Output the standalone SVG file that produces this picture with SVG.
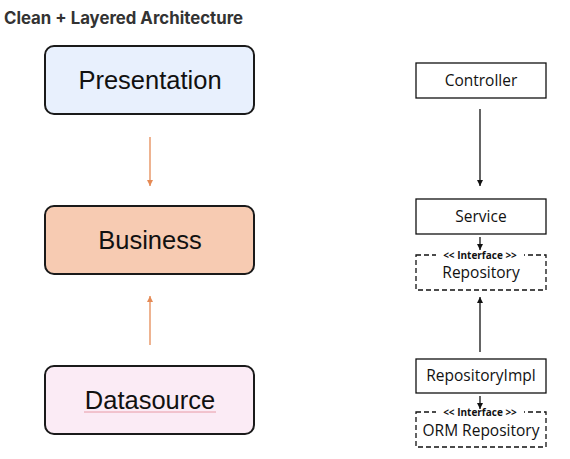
<svg xmlns="http://www.w3.org/2000/svg" width="570" height="459" viewBox="0 0 570 459">
<defs>
<style>
.layer{stroke:#1a1a1a;stroke-width:2}
.lt{font-family:"Liberation Sans",Arial,sans-serif;font-size:25.5px;fill:#111;text-anchor:middle}
.box{fill:#fff;stroke:#111;stroke-width:1.3}
.dbox{fill:#fff;stroke:#111;stroke-width:1.3;stroke-dasharray:5 3}
.rt{font-family:"Open Sans","Noto Sans",sans-serif;font-size:15.5px;fill:#111;text-anchor:middle}
.it{font-family:"Open Sans","Noto Sans",sans-serif;font-size:10px;font-weight:bold;fill:#111;text-anchor:middle}
.oa{stroke:#e58a55;stroke-width:1.3;fill:none}
.ba{stroke:#111;stroke-width:1.3;fill:none}
</style>
<marker id="ao" markerWidth="8" markerHeight="8" refX="6" refY="4" orient="auto" markerUnits="userSpaceOnUse"><path d="M0,1 L6,4 L0,7 z" fill="#e58a55"/></marker>
<marker id="ab" markerWidth="8" markerHeight="8" refX="6" refY="4" orient="auto" markerUnits="userSpaceOnUse"><path d="M0,1 L6,4 L0,7 z" fill="#111"/></marker>
</defs>
<rect width="570" height="459" fill="#fff"/>
<text x="4" y="24" font-family="Inter,'Liberation Sans',sans-serif" font-size="16.8" font-weight="bold" fill="#333">Clean + Layered Architecture</text>

<g id="presentation">
<rect class="layer" x="45" y="46" width="209" height="68" rx="9" fill="#e8f0fd"/>
<text class="lt" x="150" y="89">Presentation</text>
</g>
<g id="business">
<rect class="layer" x="45" y="206" width="209" height="68" rx="9" fill="#f7cbb2"/>
<text class="lt" x="150" y="249">Business</text>
</g>
<g id="datasource">
<rect class="layer" x="45" y="366" width="209" height="68" rx="9" fill="#fbebf5"/>
<text class="lt" x="150" y="409">Datasource</text>
<path d="M84,412 H216" stroke="#e89aa6" stroke-width="1" fill="none"/>
</g>

<g id="controller">
<rect class="box" x="416" y="63" width="130" height="35"/>
<text class="rt" x="481" y="86">Controller</text>
</g>
<g id="service">
<rect class="box" x="416" y="199" width="130" height="35"/>
<text class="rt" x="481" y="222">Service</text>
</g>
<g id="repository">
<rect class="dbox" x="416" y="255" width="130" height="35"/>
<rect x="436" y="250" width="88" height="10" fill="#fff"/>
<text class="it" x="480" y="259">&lt;&lt; Interface &gt;&gt;</text>
<text class="rt" x="481" y="278">Repository</text>
</g>
<g id="repositoryimpl">
<rect class="box" x="416" y="359" width="130" height="34"/>
<text class="rt" x="481" y="381">RepositoryImpl</text>
</g>
<g id="ormrepository">
<rect class="dbox" x="416" y="412" width="130" height="35"/>
<rect x="436" y="407" width="88" height="10" fill="#fff"/>
<text class="it" x="480" y="416">&lt;&lt; Interface &gt;&gt;</text>
<text class="rt" x="481" y="436">ORM Repository</text>
</g>

<g id="connectors">
<line class="oa" x1="150" y1="137" x2="150" y2="186" marker-end="url(#ao)"/>
<line class="oa" x1="150" y1="345" x2="150" y2="296" marker-end="url(#ao)"/>
<line class="ba" x1="480" y1="109" x2="480" y2="186" marker-end="url(#ab)"/>
<line class="ba" x1="480" y1="237" x2="480" y2="250" marker-end="url(#ab)"/>
<line class="ba" x1="480" y1="352" x2="480" y2="297" marker-end="url(#ab)"/>
<line class="ba" x1="480" y1="396" x2="480" y2="409" marker-end="url(#ab)"/>
</g>
</svg>
